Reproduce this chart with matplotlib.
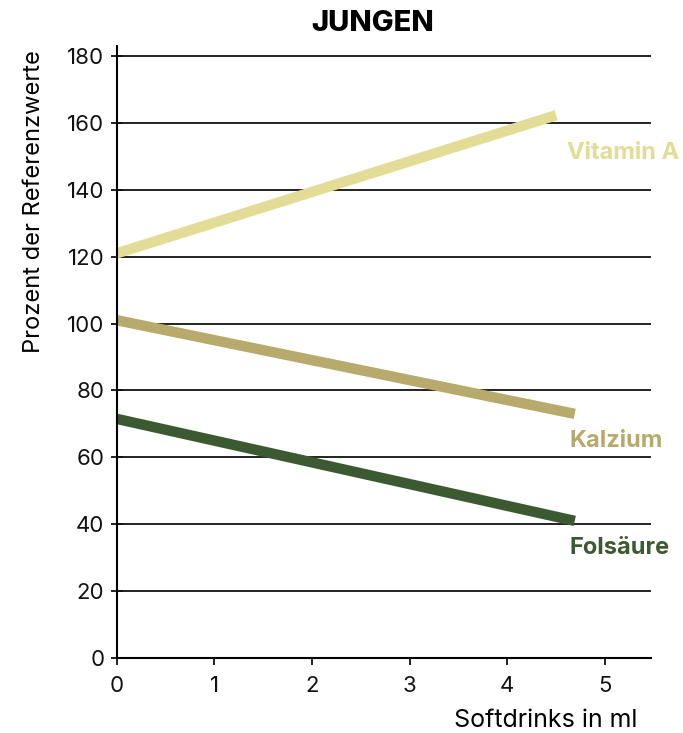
import matplotlib
matplotlib.use("Agg")
import matplotlib.pyplot as plt

plt.rcParams["font.family"] = ["Inter", "DejaVu Sans"]

x_start = [0, 0, 0]
x_end = [4.5, 4.69, 4.69]
names = ["Vitamin A", "Kalzium", "Folsäure"]
y_start = [121, 101, 71.5]
y_end = [162.3, 73, 41]
label_pos = [(5.18, 151), (5.11, 65), (5.15, 33)]
colors = ["#e2dc96", "#b7aa6c", "#3c5a31"]
yticks = [0, 20, 40, 60, 80, 100, 120, 140, 160, 180]
xticks = [0, 1, 2, 3, 4, 5]

fig = plt.figure(figsize=(6.83, 7.33), dpi=100)
ax = fig.add_axes([0.171, 0.1023, 0.782, 0.835])

for y in yticks[1:]:
    ax.axhline(y, color="#111111", lw=1.3, zorder=1)

for xs, xe, ys, ye, c in zip(x_start, x_end, y_start, y_end, colors):
    ax.plot([xs, xe], [ys, ye], color=c, lw=7.5, solid_capstyle="butt", zorder=2)

for name, (lx, ly), c in zip(names, label_pos, colors):
    ax.text(lx, ly, name, color=c, fontsize=17, fontweight="bold", ha="center", va="center")

ax.set_xlim(0, 5.47)
ax.set_ylim(0, 183)
ax.set_xticks(xticks)
ax.set_yticks(yticks)
ax.tick_params(direction="inout", length=8, width=1.3, labelsize=16, colors="#111111", pad=5)
ax.tick_params(axis="x", direction="out", length=5, pad=8)
for s in ["top", "right"]:
    ax.spines[s].set_visible(False)
for s in ["left", "bottom"]:
    ax.spines[s].set_linewidth(1.5)

ax.set_ylabel("Prozent der Referenzwerte", fontsize=17)
ax.yaxis.set_label_coords(-0.135, 0.745)
fig.text(0.933, 0.0177, "Softdrinks in ml", fontsize=18, ha="right", va="center")
fig.text(0.546, 0.968, "JUNGEN", fontsize=21, fontweight="heavy", ha="center", va="center")

fig.savefig("out.png", dpi=100)
